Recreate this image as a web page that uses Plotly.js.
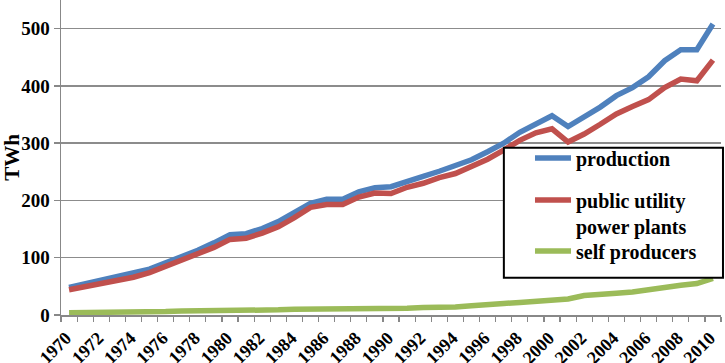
<!DOCTYPE html>
<html>
<head>
<meta charset="utf-8">
<script src="https://cdn.plot.ly/plotly-3.0.1.min.js"></script>
<style>html,body{margin:0;padding:0;background:#fff;}#chart{width:725px;height:363px;}</style>
</head>
<body>
<div id="chart"></div>
<script>
var years = [1970,1971,1972,1973,1974,1975,1976,1977,1978,1979,1980,1981,1982,1983,1984,1985,1986,1987,1988,1989,1990,1991,1992,1993,1994,1995,1996,1997,1998,1999,2000,2001,2002,2003,2004,2005,2006,2007,2008,2009,2010];
var production = [48,54,60,66,72,80,91,101,113,126,140,142,151,163,180,195,202,202,215,222,224,234,242,251,260,271,285,300,319,334,348,329,345,363,383,397,416,444,463,463,508];
var publicUtility = [44,49,54,60,66,74,85,95,106,118,132,134,143,154,170,188,193,193,206,213,212,223,230,240,247,260,272,288,305,318,325,302,316,333,351,364,376,397,412,409,445];
var selfProducers = [4,4,5,5,6,6,6,7,7,8,8,8,9,9,10,10,10,11,11,11,12,12,13,13,14,16,19,20,22,24,25,28,34,35,38,40,43,48,52,55,64];
var seriesNames = ['production', 'public utility<br>power plants', 'self producers'];
var yTicks = [0,100,200,300,400,500];

var serif = 'Liberation Serif, serif';
var lw = 5.5;
var legendFont = {family: serif, size: 20, color: '#000', weight: 'bold'};
var traces = [
  {x: years, y: production, name: seriesNames[0], type: 'scatter', mode: 'lines', line: {color: '#4F81BD', width: lw}, legendgroup: 'a', legend: 'legend'},
  {x: years, y: publicUtility, name: seriesNames[1], type: 'scatter', mode: 'lines', line: {color: '#C0504D', width: lw}, legendgroup: 'b', legend: 'legend'},
  {x: years, y: selfProducers, name: seriesNames[2], type: 'scatter', mode: 'lines', line: {color: '#9BBB59', width: lw}, legendgroup: 'c', legend: 'legend2'}
];
var legendX = 0.7106;
var layout = {
  width: 725, height: 363,
  margin: {l: 61, r: 4, t: 0, b: 48},
  paper_bgcolor: '#fff', plot_bgcolor: '#fff',
  font: {family: serif, color: '#000', size: 18, weight: 'bold'},
  showlegend: true,
  legend: {
    x: legendX, y: 0.5603, xanchor: 'left', yanchor: 'top',
    bgcolor: 'rgba(0,0,0,0)', borderwidth: 0, font: legendFont,
    valign: 'top', tracegroupgap: 13, itemwidth: 36, traceorder: 'grouped'
  },
  legend2: {
    x: legendX, y: 0.265, xanchor: 'left', yanchor: 'top',
    bgcolor: 'rgba(0,0,0,0)', borderwidth: 0, font: legendFont,
    valign: 'top', itemwidth: 36
  },
  xaxis: {
    range: [1969.5, 2010.5], tickmode: 'linear', tick0: 1970, dtick: 2,
    tickangle: -45, ticks: '', showgrid: false, zeroline: false,
    showline: true, linecolor: '#888', linewidth: 1.5,
    ticklabelstandoff: 4, ticklabelshift: -3,
    tickfont: {family: serif, size: 18, color: '#000', weight: 'bold'},
    minor: {tick0: 1969.5, dtick: 1, ticks: 'outside', ticklen: 5, tickcolor: '#888', tickwidth: 1.2, showgrid: false}
  },
  yaxis: {
    range: [0, 550], tickvals: yTicks, ticktext: yTicks.map(String),
    ticks: 'outside', ticklen: 6, tickcolor: '#888', tickwidth: 1.5,
    showgrid: true, gridcolor: '#8c8c8c', gridwidth: 1.5, zeroline: false,
    showline: true, linecolor: '#888', linewidth: 1.5,
    tickfont: {family: serif, size: 19, color: '#000', weight: 'bold'},
    title: {text: 'TWh', font: {family: serif, size: 21, color: '#000', weight: 'bold'}, standoff: 4}
  },
  shapes: [
    {type: 'rect', xref: 'paper', yref: 'paper', x0: 0.671, x1: 1.003, y0: 0.1184, y1: 0.531,
     line: {color: '#000', width: 2}, fillcolor: '#fff', layer: 'above'}
  ]
};
Plotly.newPlot('chart', traces, layout, {displayModeBar: false, staticPlot: true});
</script>
</body>
</html>
